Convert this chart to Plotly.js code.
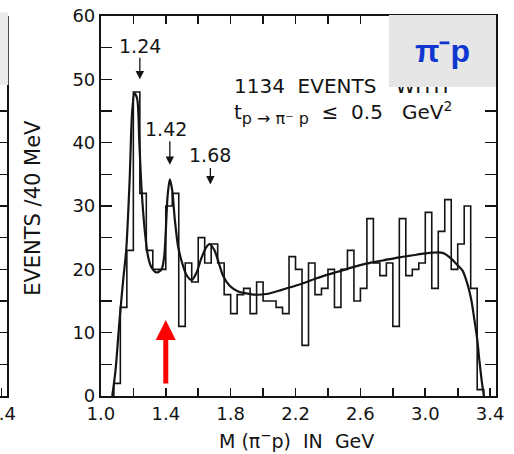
<!DOCTYPE html>
<html><head><meta charset="utf-8">
<script src="https://cdn.plot.ly/plotly-3.0.1.min.js"></script>
<style>html,body{margin:0;padding:0;background:#fff;} #chart{width:514px;height:454px;}</style>
</head><body><div id="chart"></div>
<script>
// ---- data ----
const binWidth = 0.04;
const binStart = [1.08,1.12,1.16,1.20,1.24,1.28,1.32,1.36,1.40,1.44,1.48,1.52,1.56,1.60,1.64,1.68,1.72,1.76,1.80,1.84,1.88,1.92,1.96,2.00,2.04,2.08,2.12,2.16,2.20,2.24,2.28,2.32,2.36,2.40,2.44,2.48,2.52,2.56,2.60,2.64,2.68,2.72,2.76,2.80,2.84,2.88,2.92,2.96,3.00,3.04,3.08,3.12,3.16,3.20,3.24,3.28,3.32];
const counts   = [2,14,23,48,32,23,20,20,30,32,11,21,18,25,21,24,21,16,13,16,17,13,18,15,15,14,13,22,20,8,21,16,17,20,14,20,23,15,17,28,21,19,21,11,28,19,20,21,29,17,26,31,20,24,30,17,1];

const fitMass  = [1.070,1.090,1.115,1.140,1.156,1.177,1.193,1.207,1.223,1.237,1.250,1.271,1.291,1.312,1.343,1.374,1.390,1.400,1.411,1.425,1.439,1.456,1.476,1.501,1.530,1.560,1.590,1.620,1.650,1.670,1.700,1.733,1.753,1.794,1.846,1.897,1.950,2.020,2.120,2.225,2.330,2.430,2.533,2.636,2.738,2.840,2.944,3.026,3.108,3.160,3.200,3.230,3.262,3.285,3.303,3.320,3.334,3.350,3.362];
const fitValue = [0,4,12,19,23,34,45,47.8,47,40,33,26,22,20.3,19.5,20,22,26,31.5,34.2,32.6,27.8,23.6,21,19,18.3,19.5,21.8,23.5,24,23,20.5,19,17.4,16.5,16.2,16.0,16.1,16.8,17.6,18.6,19.4,20.2,20.9,21.4,21.9,22.3,22.6,22.6,21.7,20.6,19.8,17.5,15,12,9,5.5,2,0];

const xTickVals = [1.0,1.2,1.4,1.6,1.8,2.0,2.2,2.4,2.6,2.8,3.0,3.2,3.4];
const xTickText = ['1.0','','1.4','','1.8','','2.2','','2.6','','3.0','','3.4'];
const yTickVals = [0,5,10,15,20,25,30,35,40,45,50,55,60];
const yTickText = ['0','','10','','20','','30','','40','','50','','60'];

const peakLabels = ['1.24','1.42','1.68'];
const peakMass   = [1.24,1.425,1.675];
const peakTip    = [50,36.5,33.4];

// ---- histogram outline from bins ----
const stepX = [binStart[0]], stepY = [0];
binStart.forEach((b,i)=>{ stepX.push(b); stepY.push(counts[i]); });
const lastEdge = binStart[binStart.length-1] + binWidth;
stepX.push(lastEdge); stepY.push(counts[counts.length-1]);
stepX.push(lastEdge); stepY.push(0);

const ink = '#141414';
const traces = [
  {x: stepX, y: stepY, type:'scatter', mode:'lines', line:{shape:'hv', color:ink, width:1.6}, hoverinfo:'skip'},
  {x: fitMass, y: fitValue, type:'scatter', mode:'lines', line:{shape:'spline', smoothing:0.8, color:ink, width:2.2}, hoverinfo:'skip'},
  {x: [], y: [], xaxis:'x2', yaxis:'y2', type:'scatter', mode:'lines'}
];

const axisCommon = {showgrid:false, zeroline:false, showline:true, linecolor:ink, linewidth:2,
  ticks:'inside', tickcolor:ink, tickwidth:1.6, tickfont:{family:'DejaVu Sans', size:18, color:ink}};

const annotations = [];
peakLabels.forEach((t,i)=>{
  annotations.push({x:peakMass[i], y:peakTip[i], xref:'x', yref:'y', text:'', showarrow:true,
    ax:0, ay:[-23,-25,-18][i], arrowhead:2, arrowsize:1.3, arrowwidth:1.3, arrowcolor:ink});
});
annotations.push({x:1.24, y:55.2, xref:'x', yref:'y', text:peakLabels[0], showarrow:false, font:{family:'DejaVu Sans', size:19, color:ink}});
annotations.push({x:1.40, y:42.1, xref:'x', yref:'y', text:peakLabels[1], showarrow:false, font:{family:'DejaVu Sans', size:19, color:ink}});
annotations.push({x:1.671, y:38.1, xref:'x', yref:'y', text:peakLabels[2], showarrow:false, font:{family:'DejaVu Sans', size:19, color:ink}});
annotations.push({x:1.807, y:49.0, xref:'x', yref:'y', xanchor:'left', yanchor:'middle', text:'1134  EVENTS   WITH', showarrow:false, font:{family:'DejaVu Sans', size:20, color:ink}});
annotations.push({x:1.807, y:44.7, xref:'x', yref:'y', xanchor:'left', yanchor:'middle',
  text:'t<sub><span style="font-size:16px">p → π⁻ p</span></sub>  ≤  0.5   GeV<sup>2</sup>', showarrow:false, font:{family:'DejaVu Sans', size:20, color:ink}});
// red arrow
annotations.push({x:1.40, y:12, xref:'x', yref:'y', text:'', showarrow:true, ax:0, ay:65,
  arrowhead:2, arrowsize:0.8, arrowwidth:5, arrowcolor:'#ff0000'});
// label box
annotations.push({x:3.109, y:54.5, xref:'x', yref:'y', text:'<b>π⁻p</b>', showarrow:false,
  width:107, height:72, bgcolor:'#e6e6e6', borderpad:0, borderwidth:0,
  font:{family:'Liberation Sans', size:32, color:'#1036d0'}});
// axis titles
annotations.push({x:33/496.5, y:0.495, xref:'paper', yref:'paper', xanchor:'center', yanchor:'middle', text:'EVENTS /40 MeV', textangle:-90, showarrow:false,
  font:{family:'DejaVu Sans', size:21, color:ink}});
annotations.push({x:297/496.5, y:-0.117, xref:'paper', yref:'paper', xanchor:'center', yanchor:'middle', text:'M (π<sup>−</sup>p)  IN  GeV', showarrow:false,
  font:{family:'DejaVu Sans', size:19, color:ink}});

const layout = {
  width:514, height:454,
  margin:{l:0, r:17.5, t:16, b:57.5},
  paper_bgcolor:'#ffffff', plot_bgcolor:'rgba(0,0,0,0)',
  showlegend:false,
  xaxis: Object.assign({}, axisCommon, {domain:[101/496.5,1], range:[1.0,3.436], tickvals:xTickVals, ticktext:xTickText, ticklen:8, mirror:'ticks', anchor:'y'}),
  yaxis: Object.assign({}, axisCommon, {domain:[0,1], range:[0,60], tickvals:yTickVals, ticktext:yTickText, ticklen:11, mirror:'ticks', anchor:'x'}),
  xaxis2: Object.assign({}, axisCommon, {domain:[0,7.5/496.5], range:[3.39,3.436], tickvals:[3.4], ticktext:['3.4'], ticklen:8, anchor:'y2', ticklabeloverflow:'allow'}),
  yaxis2: Object.assign({}, axisCommon, {domain:[0,1], range:[0,60], side:'right', tickvals:yTickVals, showticklabels:false, ticklen:8, anchor:'x2'}),
  shapes:[
    {type:'rect', xref:'paper', yref:'paper', x0:-0.02, x1:8.3/496.5, y0:(396.5-85)/380.5, y1:1.01, fillcolor:'#ebebeb', line:{width:0}, layer:'above'}
  ],
  annotations: annotations
};

Plotly.newPlot('chart', traces, layout, {displayModeBar:false, staticPlot:true});
</script></body></html>
